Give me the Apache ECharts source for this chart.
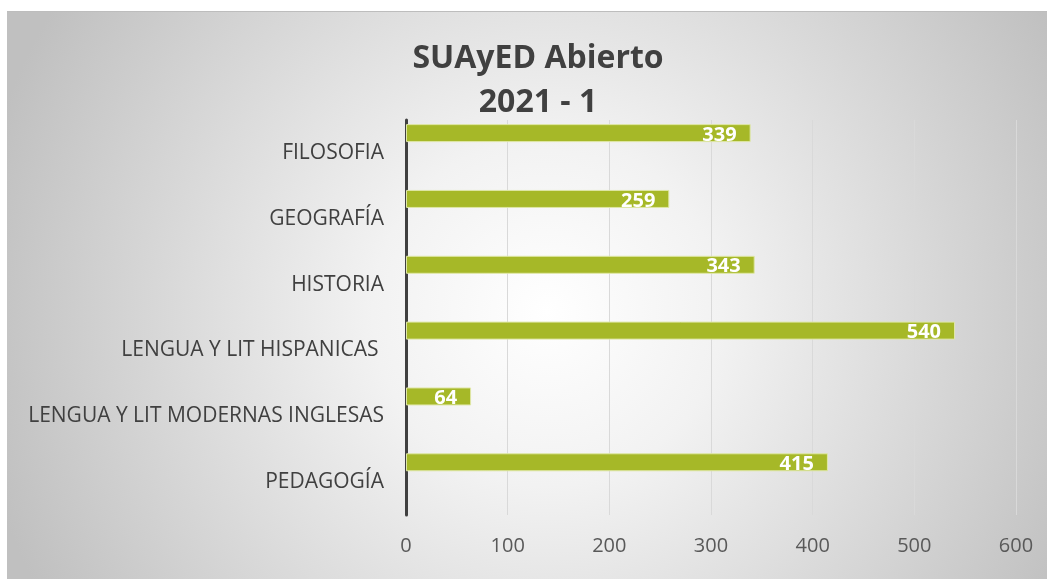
<!DOCTYPE html>
<html>
<head>
<meta charset="utf-8">
<script src="https://cdn.jsdelivr.net/npm/echarts@6/dist/echarts.min.js"></script>
<style>
  html, body { margin: 0; padding: 0; background: #ffffff; }
  #chart {
    position: absolute;
    left: 7px;
    top: 11px;
    width: 1040px;
    height: 568px;
    border-top: 1px solid #bdbdbd;
    box-sizing: border-box;
    background: radial-gradient(circle 580px at 540px 300px, #ffffff 0%, #f2f2f2 30%, #c0c0c0 100%);
  }
</style>
</head>
<body>
<div id="chart"></div>
<script>
const categories = ['FILOSOFIA', 'GEOGRAFÍA', 'HISTORIA', 'LENGUA Y LIT HISPANICAS ', 'LENGUA Y LIT MODERNAS INGLESAS', 'PEDAGOGÍA']
const values = [339, 259, 343, 540, 64, 415]
const emptyValues = ['-', '-', '-', '-', '-', '-']
const xTicks = [0, 100, 200, 300, 400, 500, 600]

let chartDom = document.getElementById('chart')
let myChart = echarts.init(chartDom)
let option

option = {
  backgroundColor: 'transparent',
  animation: false,
  title: {
    text: 'SUAyED Abierto\n2021 - 1',
    left: 526,
    top: 20,
    textAlign: 'center',
    textStyle: {
      fontFamily: 'Open Sans',
      fontWeight: 'bold',
      fontSize: 32,
      lineHeight: 44,
      color: '#404040'
    }
  },
  grid: {
    left: 399,
    right: 31,
    top: 108,
    bottom: 64
  },
  xAxis: {
    type: 'value',
    min: xTicks[0],
    max: xTicks[xTicks.length - 1],
    interval: 100,
    axisLine: { show: false },
    axisTick: { show: false },
    axisLabel: {
      margin: 21,
      fontFamily: 'Open Sans',
      fontSize: 20,
      color: '#595959'
    },
    splitLine: {
      lineStyle: { color: '#d9d9d9', width: 1 }
    }
  },
  yAxis: {
    type: 'category',
    inverse: true,
    data: categories,
    axisLine: {
      show: true,
      lineStyle: { color: '#404040', width: 3 }
    },
    axisTick: { show: false },
    axisLabel: {
      margin: 22,
      fontFamily: 'Open Sans',
      fontSize: 21,
      color: '#404040'
    }
  },
  series: [
    {
      type: 'bar',
      data: values,
      barWidth: 18,
      barGap: '120%',
      itemStyle: {
        color: '#a6b828',
        borderColor: '#dfe7a6',
        borderWidth: 1
      },
      label: {
        show: true,
        position: 'insideRight',
        distance: 14,
        offset: [0, 2],
        color: '#ffffff',
        fontFamily: 'Open Sans',
        fontWeight: 'bold',
        fontSize: 20
      }
    },
    {
      type: 'bar',
      data: emptyValues,
      barWidth: 18,
      silent: true
    }
  ]
}

option && myChart.setOption(option)
</script>
</body>
</html>
